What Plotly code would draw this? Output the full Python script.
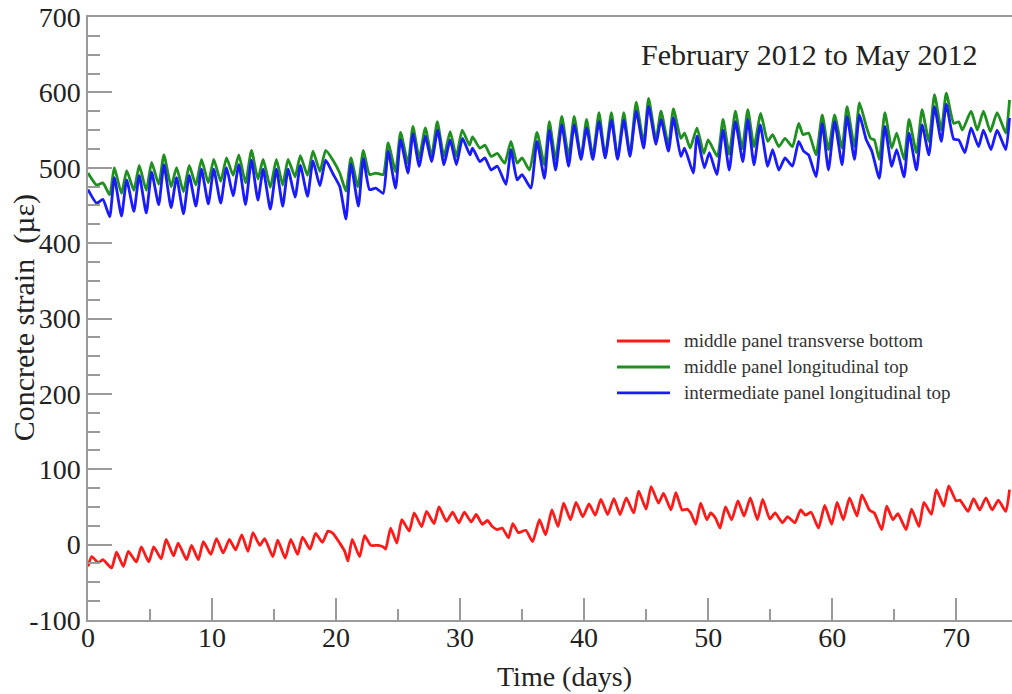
import plotly.graph_objects as go

# Time (days) and strain (µε) for each gauge
red_t = [0.0, 0.3, 0.83, 1.2, 1.9, 2.3, 2.85, 3.25, 3.9, 4.3, 4.9, 5.3, 5.9, 6.3, 6.9, 7.27, 7.95, 8.35, 8.9, 9.3,
         9.9, 10.36, 10.9, 11.4, 11.9, 12.4, 12.9, 13.3, 13.85, 14.25, 14.9, 15.3, 15.9, 16.35, 16.9, 17.3, 17.9,
         18.35, 18.9, 19.35, 19.75, 20.3, 20.7, 20.96, 21.3, 21.9, 22.3, 22.8, 23.4, 23.8, 24.0, 24.4, 24.9, 25.3,
         25.9, 26.3, 26.9, 27.3, 27.9, 28.3, 28.9, 29.4, 29.9, 30.35, 30.9, 31.3, 31.8, 32.2, 32.6, 33.0, 33.4,
         33.9, 34.25, 34.7, 35.3, 35.85, 36.4, 36.9, 37.4, 37.9, 38.35, 38.9, 39.35, 39.9, 40.4, 40.9, 41.35, 41.9,
         42.4, 42.9, 43.4, 44.0, 44.4, 45.0, 45.4, 46.0, 46.4, 47.0, 47.4, 47.9, 48.3, 48.6, 49.0, 49.4, 49.9,
         50.2, 50.6, 50.96, 51.4, 51.9, 52.4, 52.9, 53.4, 53.97, 54.4, 54.97, 55.4, 56.0, 56.4, 56.7, 57.0, 57.46,
         57.85, 58.3, 58.9, 59.4, 59.96, 60.4, 60.9, 61.4, 62.0, 62.4, 63.0, 63.4, 64.0, 64.4, 64.9, 65.3, 65.96,
         66.4, 67.0, 67.4, 68.0, 68.4, 69.0, 69.4, 70.0, 70.3, 70.96, 71.4, 71.9, 72.4, 72.9, 73.4, 74.0, 74.3]
red_v = [-29, -16, -24, -20, -31, -10, -29, -9, -23, -3, -23, -3, -19, 7, -15, 2, -20, -1, -20, 4,
         -13, 8, -11, 7, -7, 13, -9, 16, -1, 8, -16, 6, -18, 7, -13, 10, -6,
         15, 3, 18, 15, 2, -9, -22, 7, -16, 12, -1, -1, -3, -6, 22, 2, 33,
         18, 42, 24, 44, 28, 50, 31, 43, 29, 43, 30, 40, 27, 32, 24, 20, 22,
         9, 28, 16, 19, 4, 33, 13, 46, 24, 55, 33, 56, 37, 54, 39, 60, 40,
         61, 40, 62, 42, 71, 47, 77, 55, 68, 46, 69, 46, 47, 42, 27, 55, 33,
         42, 35, 22, 50, 33, 58, 38, 62, 33, 60, 34, 42, 29, 37, 33, 29, 46,
         39, 43, 22, 52, 27, 56, 33, 62, 38, 66, 46, 42, 20, 51, 33, 41, 20,
         47, 24, 56, 40, 73, 51, 78, 58, 59, 44, 61, 46, 62, 46, 59, 44, 73]

green_t = [0.0, 0.7, 1.2, 1.75, 2.12, 2.7, 3.12, 3.7, 4.13, 4.7, 5.13, 5.7, 6.12, 6.7, 7.14, 7.7, 8.16, 8.7, 9.15,
           9.7, 10.14, 10.7, 11.17, 11.7, 12.16, 12.7, 13.18, 13.7, 14.12, 14.7, 15.19, 15.7, 16.13, 16.7, 17.12,
           17.7, 18.14, 18.7, 19.16, 19.75, 20.3, 20.8, 21.2, 21.76, 22.2, 22.7, 23.2, 23.8, 24.2, 24.8, 25.2,
           25.8, 26.2, 26.7, 27.2, 27.7, 28.16, 28.7, 29.2, 29.7, 30.17, 30.76, 31.0, 31.6, 32.0, 32.5, 33.0,
           33.6, 34.1, 34.6, 35.0, 35.6, 36.2, 36.8, 37.2, 37.7, 38.2, 38.75, 39.2, 39.75, 40.2, 40.7, 41.2, 41.7,
           42.2, 42.7, 43.2, 43.7, 44.2, 44.8, 45.2, 45.8, 46.2, 46.8, 47.2, 47.8, 48.1, 48.55, 49.1, 49.65, 50.0,
           50.75, 51.2, 51.7, 52.2, 52.75, 53.2, 53.7, 54.24, 54.8, 55.2, 55.7, 56.2, 56.8, 57.3, 57.65, 58.1,
           58.7, 59.2, 59.7, 60.2, 60.8, 61.2, 61.8, 62.2, 62.75, 63.1, 63.4, 63.8, 64.25, 64.8, 65.2, 65.8, 66.2,
           66.8, 67.25, 67.8, 68.25, 68.8, 69.2, 69.8, 70.2, 70.5, 71.2, 71.7, 72.2, 72.75, 73.3, 74.0, 74.3]
green_v = [493, 477, 480, 464, 500, 466, 496, 470, 503, 470, 507, 478, 517, 475, 500, 468, 503, 477, 511,
           480, 511, 482, 513, 490, 517, 480, 523, 485, 511, 474, 511, 477, 511, 488, 516,
           490, 522, 495, 523, 510, 493, 469, 513, 475, 523, 491, 493, 491, 533, 495, 547,
           506, 555, 513, 553, 515, 561, 515, 548, 515, 550, 530, 541, 526, 530, 515, 519,
           506, 535, 506, 513, 497, 547, 504, 561, 511, 568, 515, 568, 513, 564, 515, 573, 515,
           573, 513, 573, 517, 587, 533, 592, 537, 575, 530, 578, 539, 546, 526, 553, 519, 537,
           515, 564, 518, 575, 525, 577, 528, 572, 535, 544, 528, 539, 528, 559, 544, 546,
           517, 570, 524, 570, 526, 581, 528, 586, 555, 539, 537, 511, 573, 526, 546, 511, 564,
           520, 577, 535, 597, 550, 599, 559, 561, 550, 575, 550, 575, 548, 573, 546, 590]

blue_t = [0.0, 0.7, 1.2, 1.75, 2.12, 2.7, 3.12, 3.7, 4.13, 4.7, 5.13, 5.7, 6.12, 6.7, 7.14, 7.7, 8.16, 8.7, 9.15,
          9.7, 10.14, 10.7, 11.17, 11.7, 12.16, 12.7, 13.18, 13.7, 14.12, 14.7, 15.19, 15.7, 16.13, 16.7, 17.12,
          17.7, 18.14, 18.7, 19.16, 19.75, 20.3, 20.8, 21.2, 21.8, 22.2, 22.7, 23.2, 23.8, 24.2, 24.8, 25.2,
          25.8, 26.2, 26.7, 27.2, 27.7, 28.2, 28.7, 29.2, 29.7, 30.2, 30.8, 31.0, 31.6, 32.0, 32.5, 33.0,
          33.7, 34.1, 34.6, 35.0, 35.7, 36.2, 36.8, 37.2, 37.7, 38.2, 38.75, 39.2, 39.75, 40.2, 40.7, 41.2, 41.7,
          42.2, 42.7, 43.2, 43.7, 44.2, 44.8, 45.2, 45.8, 46.2, 46.8, 47.2, 47.8, 48.1, 48.8, 49.1, 49.7, 50.1,
          50.7, 51.2, 51.7, 52.2, 52.8, 53.2, 53.7, 54.2, 54.8, 55.2, 55.7, 56.2, 56.8, 57.3, 57.7, 58.1,
          58.7, 59.2, 59.7, 60.2, 60.8, 61.2, 61.8, 62.2, 62.75, 63.2, 63.8, 64.25, 64.8, 65.2, 65.8, 66.2,
          66.8, 67.25, 67.8, 68.25, 68.8, 69.2, 69.8, 70.2, 70.7, 71.2, 71.8, 72.2, 72.8, 73.3, 74.0, 74.3]
blue_v = [471, 453, 458, 435, 487, 436, 484, 442, 490, 440, 494, 451, 504, 447, 487, 439, 490, 449, 498,
          452, 498, 453, 500, 463, 504, 451, 510, 457, 498, 445, 498, 449, 498, 461, 503,
          462, 509, 476, 510, 492, 475, 432, 505, 449, 512, 471, 473, 466, 522, 473, 537,
          493, 545, 502, 542, 508, 550, 504, 537, 504, 539, 517, 526, 508, 513, 497, 502,
          478, 524, 484, 491, 473, 535, 486, 550, 497, 557, 502, 557, 511, 553, 511, 561, 513,
          563, 511, 563, 515, 575, 526, 581, 531, 564, 522, 566, 515, 526, 493, 542, 500, 520,
          491, 550, 497, 561, 508, 564, 504, 557, 502, 524, 497, 513, 502, 535, 522, 517,
          488, 559, 497, 561, 504, 568, 511, 570, 537, 522, 486, 555, 502, 524, 488, 546,
          497, 557, 517, 581, 535, 584, 538, 537, 520, 553, 528, 550, 524, 550, 524, 566]

series = [
    ("middle panel transverse bottom", red_t, red_v, "#ff1a1a"),
    ("middle panel longitudinal top", green_t, green_v, "#1f8f1f"),
    ("intermediate panel longitudinal top", blue_t, blue_v, "#1a1aff"),
]

x_ticks = [0, 10, 20, 30, 40, 50, 60, 70]
y_ticks = [-100, 0, 100, 200, 300, 400, 500, 600, 700]
y_tick_text = ["-100", "0", "100", "200", "300", "400", "500", "600", "700"]

FONT = "Liberation Serif"
INK = "#222222"
AXIS_GREY = "#9a9a9a"

fig = go.Figure()
for name, t, v, color in series:
    fig.add_trace(go.Scatter(
        x=t, y=v, mode="lines", name=name, showlegend=False,
        line=dict(color=color, width=2.8, shape="spline", smoothing=0.5),
    ))

axis_common = dict(
    showgrid=False, zeroline=False, showline=True, linecolor=AXIS_GREY, linewidth=1.5,
    ticks="inside", tickcolor=AXIS_GREY, tickwidth=1.5,
    tickfont=dict(family=FONT, size=28, color=INK),
)

# Legend drawn as short line samples with text beside them
legend_rows = [0.4627, 0.4196, 0.3765]
shapes = []
annotations = []
for (name, _, _, color), ry in zip(series, legend_rows):
    shapes.append(dict(type="line", xref="paper", yref="paper", x0=0.5725, x1=0.6299, y0=ry, y1=ry,
                       line=dict(color=color, width=2.8)))
    annotations.append(dict(text=name, xref="paper", yref="paper", x=0.6425, y=ry, xanchor="left",
                            yanchor="middle", showarrow=False,
                            font=dict(family=FONT, size=19, color="#333333")))

annotations += [
    dict(text="February 2012 to May 2012", xref="paper", yref="paper",
         x=0.781, y=0.937, xanchor="center", yanchor="middle", showarrow=False,
         font=dict(family=FONT, size=30, color=INK)),
    dict(text="Time (days)", xref="paper", yref="paper",
         x=0.516, y=-0.0945, xanchor="center", yanchor="middle", showarrow=False,
         font=dict(family=FONT, size=28, color=INK)),
    dict(text="Concrete strain  (µε)", xref="paper", yref="paper", textangle=-90,
         x=-0.069, y=0.5008, xanchor="center", yanchor="middle", showarrow=False,
         font=dict(family=FONT, size=30, color=INK)),
]

fig.update_layout(
    width=1012, height=694,
    margin=dict(l=88, r=0, t=17, b=74),
    paper_bgcolor="white", plot_bgcolor="white",
    font=dict(family=FONT, color=INK),
    xaxis=dict(
        range=[0, 74.5], tickvals=x_ticks, ticklen=22, mirror=True, ticklabelstandoff=-8,
        minor=dict(dtick=5, tick0=0, ticks="inside", ticklen=11, tickcolor=AXIS_GREY, tickwidth=1.5),
        **axis_common,
    ),
    yaxis=dict(
        range=[-100, 700], tickvals=y_ticks, ticktext=y_tick_text, ticklen=24,
        minor=dict(dtick=25, tick0=0, ticks="inside", ticklen=12, tickcolor=AXIS_GREY, tickwidth=1.5),
        **axis_common,
    ),
    showlegend=False,
    shapes=shapes,
    annotations=annotations,
)

fig.write_html("out.html")
